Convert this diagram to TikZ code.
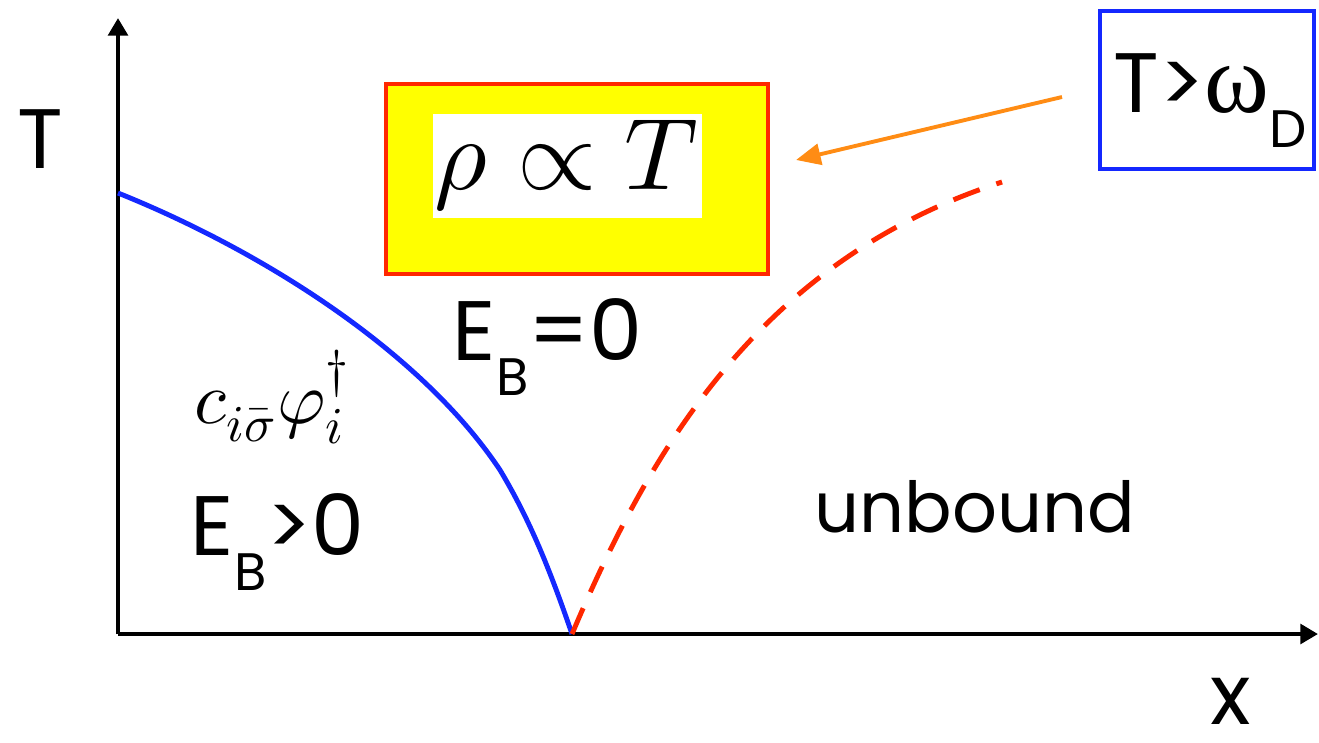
\documentclass[tikz,border=0pt]{standalone}
\usepackage{fontspec}
\setmainfont{Poppins}
\newfontfamily\greekserif{Liberation Serif}
\usepackage{unicode-math}
\setmathfont{Latin Modern Math}
\usetikzlibrary{arrows.meta}
\definecolor{bblue}{RGB}{20,40,255}
\definecolor{rred}{RGB}{255,40,0}
\definecolor{oorange}{RGB}{255,140,20}
\definecolor{yyellow}{RGB}{255,255,0}
\newcommand{\lowsub}[1]{\raisebox{-0.42em}{\fontsize{15}{15}\selectfont #1}}
\tikzset{
  lbl/.style={font=\fontsize{24}{24}\selectfont, inner sep=0pt},
  axis/.style={line width=1.3pt, -{Triangle[length=5pt,width=5.5pt]}},
}
\begin{document}
\begin{tikzpicture}[x=0.01cm,y=-0.01cm]
\useasboundingbox (0,0) rectangle (1319,742);
% axes
\coordinate (O) at (118,634);
\coordinate (ytop) at (118,18);
\coordinate (xend) at (1318,634);
\draw[axis] (O) -- (ytop);
\draw[axis] (O) -- (xend);
\node[lbl, anchor=base] (Tlab) at (40,168) {T};
\node[lbl, anchor=base] (xlab) at (1231,724) {x};
% blue curve
\coordinate (b0) at (118,193);
\coordinate (c0) at (572,634);
\draw[bblue, line width=1.4pt] (b0) .. controls (260,250) and (420,350) .. (500,470)
  .. controls (530,520) and (550,570) .. (c0);
% red dashed
\coordinate (r1) at (1002,182);
\draw[rred, line width=1.4pt, dash pattern=on 8pt off 5pt] (c0) .. controls (650,450) and (760,260) .. (r1);
% yellow box
\node[draw=rred, fill=yyellow, line width=1.2pt, inner sep=0pt,
  minimum width=3.82cm, minimum height=1.9cm, anchor=north west] (ybox) at (384,82) {};
\node[fill=white, inner sep=0pt, minimum width=2.69cm, minimum height=1.04cm, anchor=north west] (wbox) at (432,113) {};
\node[inner sep=0pt, font=\fontsize{29}{29}\selectfont] (rho) at (wbox.center) {$\rho\propto T$};
% blue box
\node[draw=bblue, line width=1.2pt, inner sep=0pt, minimum width=2.14cm, minimum height=1.58cm, anchor=north west] (bbox) at (1098,9) {};
\node[lbl, anchor=base west] (Tw) at (1113,112) {T>{\greekserif\fontsize{28}{28}\selectfont ω}\lowsub{D}};
% orange arrow
\coordinate (oa) at (1062,97);
\coordinate (ob) at (796,160);
\draw[oorange, line width=1.1pt, -{Triangle[length=7pt,width=6pt]}] (oa) -- (ob);
% labels
\node[lbl, anchor=base west] (EB0) at (452,360) {E\lowsub{B}=0};
\node[lbl, anchor=base west] (EBp) at (190,555) {E\lowsub{B}>0};
\node[lbl, anchor=base west, font=\fontsize{20}{20}\selectfont] (unb) at (814,532) {unbound};
\node[inner sep=0pt, anchor=base west, font=\fontsize{21}{21}\selectfont] (cphi) at (194,423) {$c_{i\bar\sigma}\varphi_i^\dagger$};
\end{tikzpicture}
\end{document}
